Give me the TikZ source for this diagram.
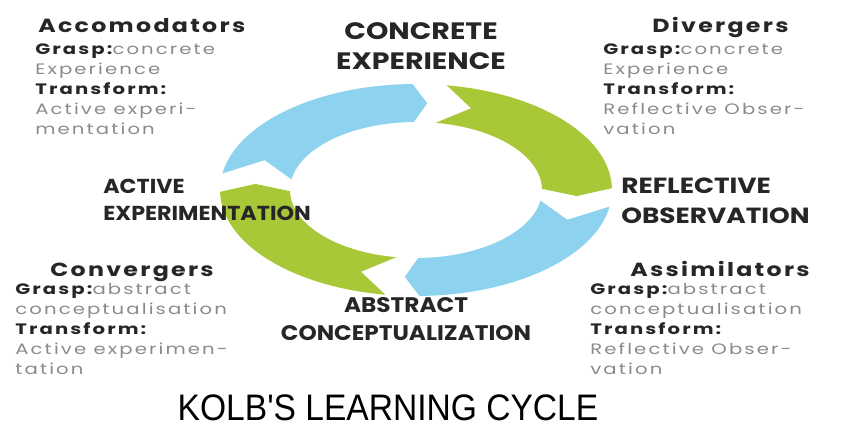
\documentclass[tikz,border=0pt]{standalone}
\usepackage{fontspec}
\setmainfont{Poppins}
\newfontfamily\stagefont[FakeStretch=1.2]{Poppins}
\newfontfamily\narrowstagefont[FakeStretch=1.1]{Poppins}
\newfontfamily\headfont[FakeStretch=1.25,LetterSpace=12]{Poppins}
\newfontfamily\boxfont[FakeStretch=1.3,LetterSpace=14]{Poppins}
\newfontfamily\titlefont[FakeStretch=0.91]{Liberation Sans}
\usetikzlibrary{positioning}
\definecolor{ringblue}{HTML}{8DD2EF}
\definecolor{ringgreen}{HTML}{A8C838}
\definecolor{bodygray}{HTML}{8A8A8A}
\definecolor{headgray}{HTML}{262626}
\newcommand{\ringpiece}[2]{%
  \fill[#1] (#2:196 and 106) arc[start angle=#2, end angle=#2-80, x radius=196, y radius=106]
    -- ({#2-85}:161 and 87) -- ({#2-80}:126 and 68)
    arc[start angle=#2-80, end angle=#2, x radius=126, y radius=68]
    -- ({#2-11}:161 and 87) -- cycle;
}
\newcommand{\hd}[1]{\textcolor{headgray}{\bfseries #1}}

\begin{document}
\begin{tikzpicture}[x=0.02cm,y=0.02cm,
  stage/.style={font=\stagefont\bfseries\fontsize{#1}{17}\selectfont, text=headgray, inner sep=0},
  stage/.default=12.5,
  narrowstage/.style={font=\narrowstagefont\bfseries\fontsize{#1}{15.5}\selectfont, text=headgray, inner sep=0},
  boxhead/.style={font=\headfont\bfseries\fontsize{10.8}{12}\selectfont, text=headgray, inner sep=0, anchor=base west},
  boxbody/.style={font=\boxfont\fontsize{8.6}{11.4}\selectfont, text=bodygray, align=left, inner sep=0, anchor=north west}]
  \useasboundingbox (0,0) rectangle (841,436);
  % the ring, four pieces running clockwise
  \begin{scope}[shift={(416,246)}]
    \foreach \a/\c in {171/ringblue,81/ringgreen,-9/ringblue,-99/ringgreen} {\ringpiece{\c}{\a}}
  \end{scope}
  % the four stages
  \node[stage=13.5, align=center] (conc) at (421,390) {CONCRETE\\EXPERIENCE};
  \node[stage, align=left, anchor=west] (refl) at (621,235) {REFLECTIVE\\OBSERVATION};
  \node[narrowstage=12, align=center] (abst) at (406,117) {ABSTRACT\\CONCEPTUALIZATION};
  \node[narrowstage=11.5, align=left, anchor=west] (actv) at (103,236) {ACTIVE\\EXPERIMENTATION};
  % the four styles
  \node[boxhead] (acchead) at (38,403) {Accomodators};
  \node[boxbody] (accbody) at (35,393) {\hd{Grasp:}concrete\\Experience\\\hd{Transform:}\\Active experi-\\mentation};
  \node[boxhead] (divhead) at (652,403) {Divergers};
  \node[boxbody] (divbody) at (603,393) {\hd{Grasp:}concrete\\Experience\\\hd{Transform:}\\Reflective Obser-\\vation};
  \node[boxhead] (convhead) at (50,159) {Convergers};
  \node[boxbody] (convbody) at (15,153) {\hd{Grasp:}abstract\\conceptualisation\\\hd{Transform:}\\Active experimen-\\tation};
  \node[boxhead] (assimhead) at (630,159) {Assimilators};
  \node[boxbody] (assimbody) at (590,153) {\hd{Grasp:}abstract\\conceptualisation\\\hd{Transform:}\\Reflective Obser-\\vation};
  % caption
  \node[font=\titlefont\fontsize{21}{24}\selectfont, text=black, inner sep=0, anchor=base] (cycletitle) at (388,16) {KOLB'S LEARNING CYCLE};
\end{tikzpicture}
\end{document}
